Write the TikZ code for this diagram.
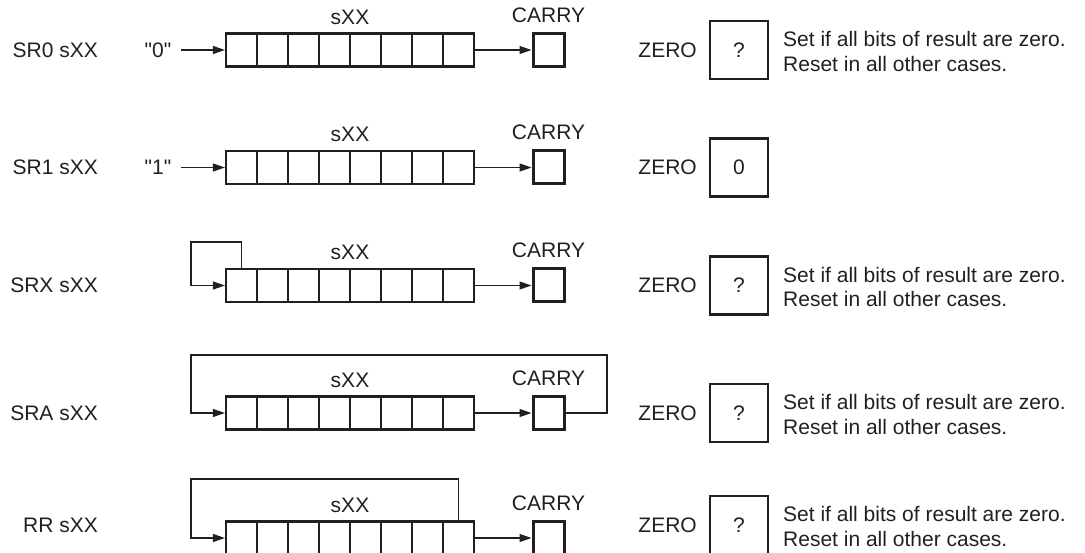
\documentclass[tikz,border=0pt]{standalone}
\usepackage{fontspec}
\setmainfont{Liberation Sans}[Ligatures=TeXOff]
\usetikzlibrary{arrows.meta}
\definecolor{ink}{HTML}{231F20}
\begin{document}
\begin{tikzpicture}[x=1pt,y=-1pt,
  every node/.style={font=\fontsize{21}{24.5}\selectfont, text=ink, inner sep=0pt},
  cell/.style={draw=ink, line width=2.2pt, minimum width=31pt, minimum height=33pt},
  carrybox/.style={draw=ink, line width=3pt, minimum width=31pt, minimum height=33pt},
  zerobox/.style={draw=ink, line width=2.4pt, minimum size=58pt},
  arr/.style={draw=ink, line width=1.2pt, -{Triangle[length=12pt,width=8pt]}},
  desc/.style={anchor=north west, align=left}]
\useasboundingbox (0,0) rectangle (1085,553);
\clip (0,0) rectangle (1085,553);
\foreach \r/\y/\yl/\name/\zv in {1/50/50/{SR0 sXX}/?, 2/167.5/167.5/{SR1 sXX}/0, 3/285.5/285.5/{SRX sXX}/?, 4/413/413/{SRA sXX}/?, 5/538/525/{RR sXX}/?}{
  \node[anchor=east] (lab\r) at (98,\yl) {\name};
  \foreach \i in {1,...,8}
    \node[cell] (c\r\i) at ({210.5+31*\i},\y) {};
  \node (sx\r) at (350,{\y-33}) {sXX};
  \node[carrybox] (k\r) at (548.5,\y) {};
  \node (kl\r) at (548.5,{\y-35}) {CARRY};
  \draw[arr] (c\r8.east) -- (k\r.west);
  \node[anchor=east] (zl\r) at (697,\yl) {ZERO};
  \node[zerobox] (z\r) at (739,\yl) {\zv};
}
\foreach \r/\yl in {1/50, 3/285.5, 4/413, 5/525}
  \node[desc] (d\r) at (783,{\yl-18.5}) {Set if all bits of result are zero.\\Reset in all other cases.};
\node (in1) at (158,50) {"0"};
\node (in2) at (158,167.5) {"1"};
\draw[arr, shorten <=10pt] (in1.east) -- (c11.west);
\draw[arr, shorten <=10pt] (in2.east) -- (c21.west);
\draw[arr] (c31.north) |- (191,242) |- (c31.west);
\draw[arr] (k4.east) -- (607,413) |- (191,355) |- (c41.west);
\draw[arr] (c58.north) |- (191,479) |- (c51.west);
\end{tikzpicture}
\end{document}
